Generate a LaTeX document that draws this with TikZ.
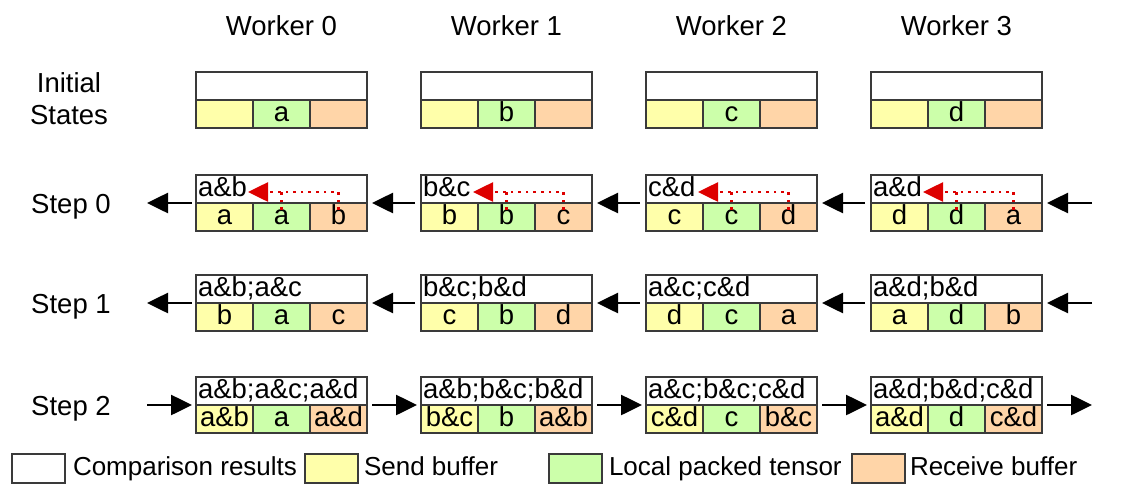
\documentclass[tikz,border=0pt]{standalone}
\usepackage{fontspec}
\setmainfont{Liberation Sans}
\usetikzlibrary{arrows.meta,calc}
\definecolor{sendc}{HTML}{FFFFAA}
\definecolor{localc}{HTML}{CCFFAA}
\definecolor{recvc}{HTML}{FFD5A8}
\definecolor{edgec}{HTML}{3A3A3A}
\definecolor{redc}{HTML}{DD0000}
\newcommand{\wblock}[8]{%
  \node[cmpcell] (#1c) at (#2+85.5, #3+14) {#4};
  \node[cell, fill=sendc] (#1s) at (#2+28.5, #3+42) {#5};
  \node[cell, fill=localc] (#1l) at (#2+85.5, #3+42) {#6};
  \node[cell, fill=recvc] (#1r) at (#2+142.5, #3+42) {#7};
}
\begin{document}
\begin{tikzpicture}[x=1pt,y=-1pt,
  every node/.style={font=\fontsize{27.5}{33}\selectfont, inner sep=0pt, outer sep=0pt},
  txt/.style={text height=19pt, text depth=4pt},
  cell/.style={draw=edgec, line width=2pt, minimum width=57pt, minimum height=28pt, txt},
  cmpcell/.style={cell, fill=white, minimum width=171pt, text width=167pt, align=left},
  lgbox/.style={draw=edgec, line width=2pt, minimum width=53pt, minimum height=29pt},
  lgtext/.style={anchor=west, font=\fontsize{26}{31}\selectfont, text height=18pt, text depth=4pt},
  blkarrow/.style={line width=2.6pt, -{Triangle[length=21pt,width=20pt]}},
  redarrow/.style={redc, line width=2.6pt, dash pattern=on 2.6pt off 5pt, -{Triangle[length=20pt,width=19pt]}},
  reddots/.style={redc, line width=2.6pt, dash pattern=on 2.6pt off 5pt},
]
\useasboundingbox (0,0) rectangle (1122,485);

% worker labels
\node[txt] (w0) at (281.5,27.5) {Worker 0};
\node[txt] (w1) at (506.5,27.5) {Worker 1};
\node[txt] (w2) at (731.5,27.5) {Worker 2};
\node[txt] (w3) at (956.5,27.5) {Worker 3};

% row labels
\node[align=center, font=\fontsize{27.5}{32}\selectfont] (linit) at (69,99) {Initial\\States};
\node[txt] (lstep0) at (71,206) {Step 0};
\node[txt] (lstep1) at (71,306) {Step 1};
\node[txt] (lstep2) at (71,408) {Step 2};

% initial states
\wblock{I0}{196}{72}{}{}{a}{}{}
\wblock{I1}{421}{72}{}{}{b}{}{}
\wblock{I2}{646}{72}{}{}{c}{}{}
\wblock{I3}{871}{72}{}{}{d}{}{}

% step 0
\wblock{P0}{196}{175}{a\&b}{a}{a}{b}{}
\wblock{P1}{421}{175}{b\&c}{b}{b}{c}{}
\wblock{P2}{646}{175}{c\&d}{c}{c}{d}{}
\wblock{P3}{871}{175}{a\&d}{d}{d}{a}{}

% step 1
\wblock{Q0}{196}{275}{a\&b;a\&c}{b}{a}{c}{}
\wblock{Q1}{421}{275}{b\&c;b\&d}{c}{b}{d}{}
\wblock{Q2}{646}{275}{a\&c;c\&d}{d}{c}{a}{}
\wblock{Q3}{871}{275}{a\&d;b\&d}{a}{d}{b}{}

% step 2
\wblock{R0}{196}{377}{a\&b;a\&c;a\&d}{a\&b}{a}{a\&d}{}
\wblock{R1}{421}{377}{a\&b;b\&c;b\&d}{b\&c}{b}{a\&b}{}
\wblock{R2}{646}{377}{a\&c;b\&c;c\&d}{c\&d}{c}{b\&c}{}
\wblock{R3}{871}{377}{a\&d;b\&d;c\&d}{a\&d}{d}{c\&d}{}

% red dotted arrows in step 0
\foreach \w in {0,1,2,3}{
  \draw[reddots] ($(P\w l.north)+(0,7)$) -- ($(P\w l.north)+(0,-11)$);
  \draw[redarrow] ($(P\w r.north)+(0,7)$) |- ($(P\w c.west)+(52,3)$);
}

% free ends
\coordinate (PL) at (147,203);
\coordinate (PR) at (1092,203);
\coordinate (QL) at (147,303);
\coordinate (QR) at (1092,303);
\coordinate (RL) at (147,405);
\coordinate (RR) at (1092,405);

% step 0 arrows (leftwards)
\draw[blkarrow, shorten <=4pt] (P0c.south west) -- (PL);
\draw[blkarrow, shorten <=6pt, shorten >=5pt] (P1c.south west) -- (P0c.south east);
\draw[blkarrow, shorten <=6pt, shorten >=5pt] (P2c.south west) -- (P1c.south east);
\draw[blkarrow, shorten <=6pt, shorten >=5pt] (P3c.south west) -- (P2c.south east);
\draw[blkarrow, shorten >=5pt] (PR) -- (P3c.south east);

% step 1 arrows (leftwards)
\draw[blkarrow, shorten <=4pt] (Q0c.south west) -- (QL);
\draw[blkarrow, shorten <=6pt, shorten >=5pt] (Q1c.south west) -- (Q0c.south east);
\draw[blkarrow, shorten <=6pt, shorten >=5pt] (Q2c.south west) -- (Q1c.south east);
\draw[blkarrow, shorten <=6pt, shorten >=5pt] (Q3c.south west) -- (Q2c.south east);
\draw[blkarrow, shorten >=5pt] (QR) -- (Q3c.south east);

% step 2 arrows (rightwards)
\draw[blkarrow, shorten >=4pt] (RL) -- (R0c.south west);
\draw[blkarrow, shorten <=5pt, shorten >=4pt] (R0c.south east) -- (R1c.south west);
\draw[blkarrow, shorten <=5pt, shorten >=4pt] (R1c.south east) -- (R2c.south west);
\draw[blkarrow, shorten <=5pt, shorten >=4pt] (R2c.south east) -- (R3c.south west);
\draw[blkarrow, shorten <=5pt] (R3c.south east) -- (RR);

% legend
\node[lgbox, fill=white] (lg1) at (38,468) {};
\node[lgtext] (lt1) at (73,468) {Comparison results};
\node[lgbox, fill=sendc] (lg2) at (331,468) {};
\node[lgtext] (lt2) at (364,468) {Send buffer};
\node[lgbox, fill=localc] (lg3) at (575,468) {};
\node[lgtext] (lt3) at (609,468) {Local packed tensor};
\node[lgbox, fill=recvc] (lg4) at (878.5,468) {};
\node[lgtext] (lt4) at (910,468) {Receive buffer};
\end{tikzpicture}
\end{document}
